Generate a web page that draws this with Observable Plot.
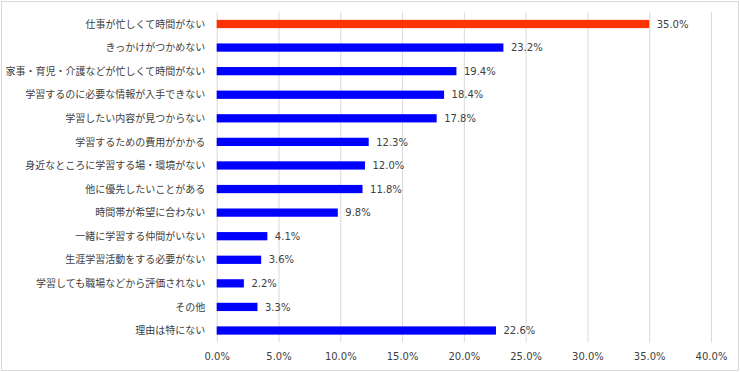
<!DOCTYPE html>
<html>
<head>
<meta charset="utf-8">
<script src="https://cdn.jsdelivr.net/npm/d3@7"></script>
<script src="https://cdn.jsdelivr.net/npm/@observablehq/plot@0.6"></script>
<style>
  html, body { margin: 0; padding: 0; background: #fff; }
  #chart svg { display: block; outline: 1px solid #d9d9d9; outline-offset: -2px; }
</style>
</head>
<body>
<div id="chart"></div>
<script>
const categories = [
  "仕事が忙しくて時間がない",
  "きっかけがつかめない",
  "家事・育児・介護などが忙しくて時間がない",
  "学習するのに必要な情報が入手できない",
  "学習したい内容が見つからない",
  "学習するための費用がかかる",
  "身近なところに学習する場・環境がない",
  "他に優先したいことがある",
  "時間帯が希望に合わない",
  "一緒に学習する仲間がいない",
  "生涯学習活動をする必要がない",
  "学習しても職場などから評価されない",
  "その他",
  "理由は特にない"
];
const values = [35.0, 23.2, 19.4, 18.4, 17.8, 12.3, 12.0, 11.8, 9.8, 4.1, 3.6, 2.2, 3.3, 22.6];
const highlight = ["仕事が忙しくて時間がない"];
const xTicks = [0, 5, 10, 15, 20, 25, 30, 35, 40];

const data = categories.map((c, i) => ({category: c, value: values[i]}));

const chart = Plot.plot({
  width: 740,
  height: 372,
  marginLeft: 216.7,
  marginRight: 29,
  marginTop: 12.2,
  marginBottom: 29.7,
  style: {fontFamily: "'DejaVu Sans', 'Noto Sans CJK JP', sans-serif", fontSize: "10px", color: "#404040", background: "#fff"},
  x: {domain: [0, 40], ticks: xTicks, tickFormat: d => d.toFixed(1) + "%", label: null},
  y: {domain: categories, paddingInner: 0.65, paddingOuter: 0.325, round: false, label: null},
  marks: [
    Plot.ruleX(xTicks, {stroke: "#d9d9d9", strokeWidth: 1}),
    Plot.barX(data, {
      x: "value", y: "category",
      fill: d => highlight.includes(d.category) ? "#ff3300" : "#0000ff"
    }),
    Plot.text(data, {
      x: "value", y: "category",
      text: d => d.value.toFixed(1) + "%",
      textAnchor: "start", dx: 7, fill: "#404040",
      fontFamily: "'DejaVu Sans', sans-serif", fontSize: 10
    }),
    Plot.axisX({ticks: xTicks, tickFormat: d => d.toFixed(1) + "%", tickSize: 0, tickPadding: 10, label: null, fill: "#404040"}),
    Plot.axisY({tickSize: 0, tickPadding: 12, label: null, fill: "#404040",
      fontFamily: "'Noto Sans CJK JP', sans-serif"})
  ]
});
document.getElementById("chart").append(chart);
</script>
</body>
</html>
